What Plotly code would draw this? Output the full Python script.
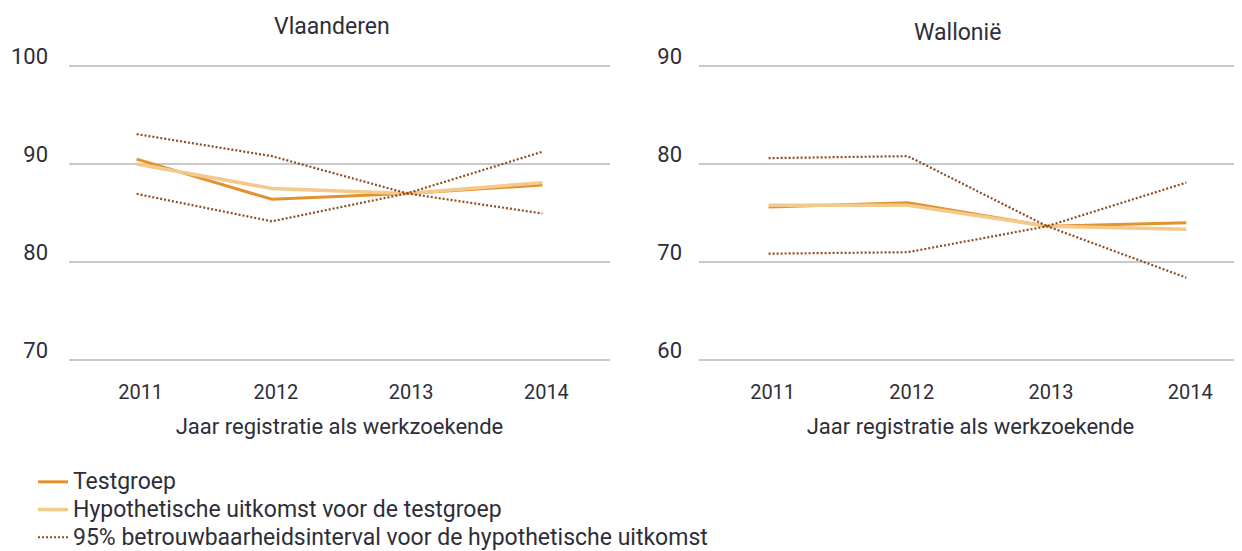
import plotly.graph_objects as go

years = ["2011", "2012", "2013", "2014"]

# Vlaanderen
vl_test = [90.5, 86.4, 87.0, 87.85]
vl_hypo = [90.0, 87.5, 87.0, 88.1]
vl_upper = [93.05, 90.8, 87.0, 91.25]
vl_lower = [86.95, 84.15, 87.0, 84.95]

# Wallonië
wa_test = [75.6, 76.05, 73.65, 74.0]
wa_hypo = [75.8, 75.8, 73.65, 73.35]
wa_upper = [80.6, 80.8, 73.65, 78.1]
wa_lower = [70.85, 71.0, 73.65, 68.4]

titles = ["Vlaanderen", "Wallonië"]
x_title = "Jaar registratie als werkzoekende"
names = ["Testgroep", "Hypothetische uitkomst voor de testgroep",
         "95% betrouwbaarheidsinterval voor de hypothetische uitkomst"]

C_TEST = "#e2922f"
C_HYPO = "#f4c98c"
C_CI = "#8f4c1e"
C_RED = "#e8202d"
C_GRID = "#c9c9c9"
C_TEXT = "#2e2e38"
FONT = "Roboto"

# page body has an 8px margin, so the figure is drawn 8px smaller
W, H = 1234, 543
OFF = 8

def legend_label(s):
    return "<span style='font-size:23px'>" + s + "</span>"

fig = go.Figure()

def add_panel(xa, ya, test, hypo, upper, lower, show):
    fig.add_trace(go.Scatter(x=years, y=test, mode="lines", name=legend_label(names[0]),
                             line=dict(color=C_TEST, width=3), xaxis=xa, yaxis=ya,
                             showlegend=show, legendrank=1))
    fig.add_trace(go.Scatter(x=years, y=hypo, mode="lines", name=legend_label(names[1]),
                             line=dict(color=C_HYPO, width=3.5), xaxis=xa, yaxis=ya,
                             showlegend=show, legendrank=2))
    fig.add_trace(go.Scatter(x=years, y=upper, mode="lines", name=legend_label(names[2]),
                             line=dict(color=C_CI, width=2.2, dash="2px,2px"), xaxis=xa, yaxis=ya,
                             showlegend=show, legendgroup="ci", legendrank=3))
    fig.add_trace(go.Scatter(x=years, y=lower, mode="lines", name=legend_label(names[2]),
                             line=dict(color=C_CI, width=2.2, dash="2px,2px"), xaxis=xa, yaxis=ya,
                             showlegend=False, legendgroup="ci"))

add_panel("x", "y", vl_test, vl_hypo, vl_upper, vl_lower, True)
add_panel("x2", "y2", wa_test, wa_hypo, wa_upper, wa_lower, False)

def px(x):
    return (x - OFF) / W

def py(y):
    return 1 - (y - OFF) / H

# y range padded by 0.3 units (~3 px) so edge gridlines are drawn
ydom = [py(362.94), py(63.06)]
common_x = dict(type="category", showgrid=False, showline=False, zeroline=False,
                ticks="", automargin=False, ticklabelstandoff=15, ticklabelshift=4,
                tickfont=dict(size=20, color=C_TEXT, family=FONT),
                title=dict(text=x_title, font=dict(size=22, color=C_TEXT, family=FONT), standoff=15))
common_y = dict(showgrid=True, gridcolor=C_GRID, gridwidth=1.5, zeroline=False,
                showline=False, ticks="", dtick=10, automargin=False,
                tickfont=dict(size=22, color=C_TEXT, family=FONT), ticklabelshift=-10)

fig.update_layout(
    width=W, height=H,
    margin=dict(l=0, r=0, t=0, b=0, autoexpand=False),
    paper_bgcolor="white", plot_bgcolor="white",
    font=dict(family=FONT, color=C_TEXT),
    xaxis=dict(domain=[px(69), px(610)], anchor="y", range=[-0.5, 3.5], **common_x),
    yaxis=dict(domain=ydom, anchor="x", range=[69.7, 100.3], ticklabelstandoff=20, **common_y),
    xaxis2=dict(domain=[px(699), 1.0], anchor="y2", range=[-0.5, 3.4], **common_x),
    yaxis2=dict(domain=ydom, anchor="x2", range=[59.7, 90.3], ticklabelstandoff=16, **common_y),
    legend=dict(x=px(33), y=py(463), xanchor="left", yanchor="top",
                font=dict(size=19, color=C_TEXT, family=FONT),
                itemwidth=30, tracegroupgap=0, bgcolor="rgba(0,0,0,0)"),
    showlegend=True,
    shapes=[
        dict(type="line", xref="x", yref="y", x0="2013", x1="2013", y0=70, y1=100,
             line=dict(color=C_RED, width=1.2)),
        dict(type="line", xref="x2", yref="y2", x0="2013", x1="2013", y0=60, y1=90,
             line=dict(color=C_RED, width=1.2)),
    ],
    annotations=[
        dict(text=titles[0], xref="paper", yref="paper", x=px(332), y=py(26),
             xanchor="center", yanchor="middle",
             showarrow=False, font=dict(size=23, color=C_TEXT, family=FONT)),
        dict(text=titles[1], xref="paper", yref="paper", x=px(958), y=py(33),
             xanchor="center", yanchor="middle",
             showarrow=False, font=dict(size=23, color=C_TEXT, family=FONT)),
    ],
)

fig.write_html("out.html")
